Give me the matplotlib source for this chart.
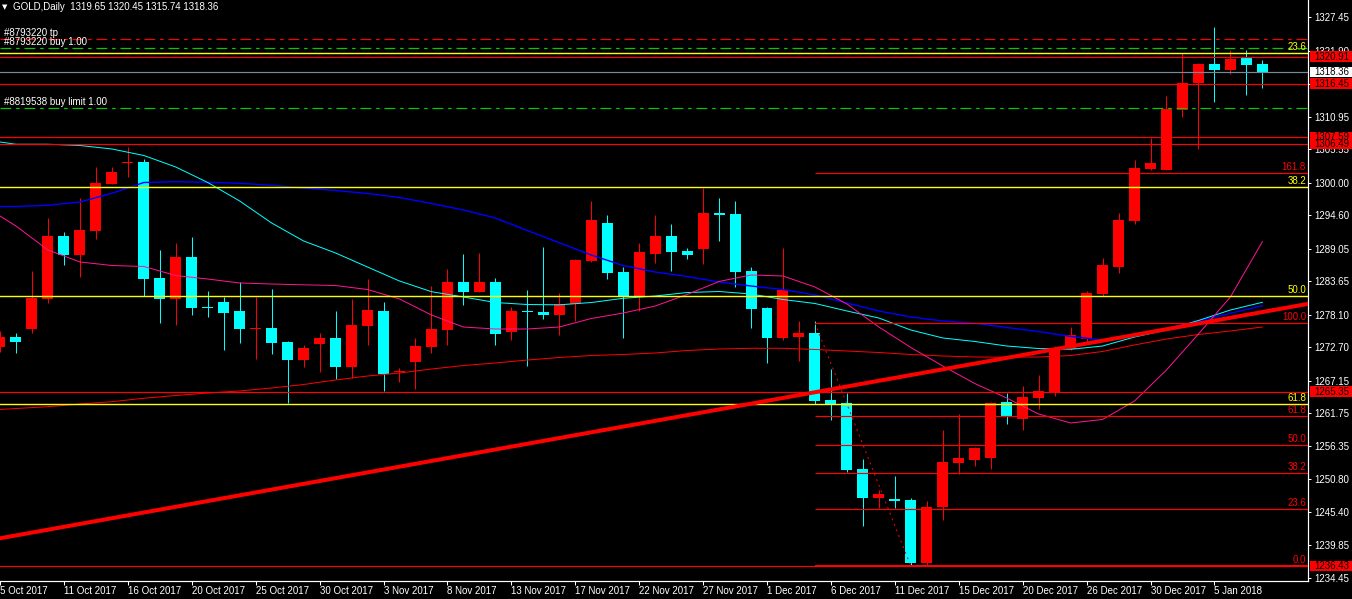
# GOLD daily chart, MT4 style
import numpy as np
import matplotlib.pyplot as plt
from matplotlib.patches import Rectangle
from matplotlib.transforms import blended_transform_factory

plt.rcParams['font.family'] = ['Liberation Sans', 'DejaVu Sans']

# Candles: bar index, open, high, low, close (red = up, cyan = down)
bars = list(range(-1, 79))
opens = [1272.80, 1274.42, 1275.75, 1280.73, 1291.17, 1288.02, 1292.05, 1299.85, 1303.33, 1303.45,
         1284.21, 1280.73, 1287.74, 1279.40, 1280.23, 1278.73, 1275.83, 1275.92, 1273.59, 1270.66,
         1273.31, 1274.26, 1269.50, 1276.30, 1278.73, 1268.57, 1270.33, 1272.81, 1275.63, 1283.54,
         1281.94, 1283.54, 1275.30, 1278.68, 1278.57, 1278.12, 1279.85, 1287.03, 1293.33, 1285.20,
         1281.22, 1288.24, 1291.17, 1288.69, 1289.02, 1294.99, 1294.82, 1285.37, 1279.23, 1274.31,
         1274.47, 1275.09, 1263.97, 1263.48, 1252.53, 1247.72, 1247.55, 1247.39, 1236.94, 1246.23,
         1253.52, 1254.02, 1254.35, 1263.64, 1260.82, 1264.30, 1265.13, 1272.43, 1274.09, 1281.55,
         1286.03, 1293.66, 1302.29, 1302.12, 1312.08, 1316.55, 1319.70, 1318.71, 1320.87, 1319.65]
highs = [1275.50, 1275.14, 1285.42, 1294.16, 1291.89, 1297.48, 1302.67, 1302.67, 1305.99, 1303.90,
         1288.85, 1289.96, 1291.01, 1282.05, 1281.11, 1283.54, 1281.11, 1282.33, 1273.76, 1273.09,
         1275.09, 1278.73, 1280.73, 1284.04, 1280.23, 1269.28, 1274.26, 1282.93, 1285.70, 1288.19,
         1288.36, 1284.21, 1279.40, 1282.22, 1289.35, 1281.72, 1287.41, 1296.98, 1294.66, 1286.03,
         1290.01, 1294.66, 1293.17, 1289.19, 1299.19, 1297.48, 1296.98, 1286.03, 1279.45, 1289.19,
         1277.08, 1277.08, 1269.11, 1265.13, 1254.19, 1249.05, 1251.36, 1247.72, 1247.22, 1258.99,
         1261.65, 1256.18, 1263.64, 1265.13, 1266.29, 1268.12, 1272.93, 1276.08, 1282.05, 1287.53,
         1294.99, 1303.78, 1307.43, 1314.40, 1321.53, 1319.87, 1325.84, 1322.03, 1322.03, 1320.45]
lows = [1272.00, 1271.82, 1275.14, 1280.01, 1286.37, 1284.42, 1290.73, 1299.85, 1300.91, 1281.22,
        1276.80, 1276.41, 1278.07, 1277.79, 1272.27, 1273.48, 1270.82, 1271.60, 1263.53, 1269.40,
        1268.67, 1267.46, 1267.57, 1273.15, 1265.47, 1267.01, 1265.85, 1271.72, 1273.09, 1279.73,
        1281.94, 1273.15, 1273.97, 1269.66, 1277.46, 1274.75, 1277.08, 1286.91, 1284.09, 1274.31,
        1278.73, 1286.70, 1285.42, 1287.41, 1286.58, 1290.39, 1282.77, 1275.92, 1270.16, 1273.97,
        1270.49, 1263.36, 1260.71, 1252.03, 1243.07, 1246.06, 1246.06, 1236.43, 1236.44, 1244.07,
        1251.70, 1253.03, 1252.53, 1259.99, 1258.99, 1262.48, 1264.64, 1272.27, 1273.59, 1281.22,
        1285.04, 1293.17, 1302.12, 1302.12, 1310.91, 1305.61, 1313.40, 1318.05, 1314.56, 1315.74]
closes = [1274.50, 1273.59, 1280.94, 1291.17, 1288.02, 1292.17, 1300.01, 1301.79, 1303.40, 1284.09,
          1280.73, 1287.74, 1279.28, 1279.28, 1278.45, 1275.75, 1275.92, 1273.48, 1270.66, 1272.60,
          1274.26, 1269.50, 1276.41, 1278.90, 1268.33, 1268.67, 1272.93, 1275.75, 1283.54, 1281.94,
          1283.54, 1274.97, 1278.73, 1278.57, 1278.12, 1279.90, 1287.19, 1293.83, 1285.04, 1281.11,
          1288.52, 1291.17, 1288.57, 1288.07, 1294.99, 1294.71, 1285.25, 1279.07, 1274.31, 1282.22,
          1275.09, 1263.86, 1263.36, 1252.36, 1247.72, 1248.38, 1247.22, 1236.94, 1246.23, 1253.69,
          1254.35, 1256.01, 1263.48, 1261.15, 1264.47, 1265.47, 1272.60, 1274.75, 1281.72, 1286.37,
          1293.83, 1302.45, 1303.28, 1312.24, 1316.55, 1319.70, 1318.71, 1320.53, 1319.54, 1318.36]

# Moving averages, read every second bar
ma_x = [-1] + list(range(0, 79, 2))
ma_cyan = [1306.77, 1306.39, 1306.39, 1306.19, 1305.61, 1304.53, 1302.62, 1300.05, 1296.98, 1293.33,
           1290.35, 1288.36, 1286.03, 1283.71, 1281.94, 1281.06, 1280.14, 1279.81, 1279.76, 1280.14,
           1280.84, 1281.22, 1281.80, 1281.97, 1281.55, 1280.64, 1279.98, 1278.74, 1277.57, 1275.58,
           1274.26, 1273.68, 1272.93, 1272.51, 1272.38, 1272.93, 1274.42, 1275.58, 1277.16, 1278.90, 1280.18]
ma_blue = [1296.04, 1296.07, 1296.27, 1296.81, 1298.26, 1300.05, 1300.18, 1300.08, 1299.92, 1299.58,
           1299.14, 1298.72, 1298.22, 1297.56, 1296.57, 1295.49, 1294.16, 1292.09, 1290.06, 1288.02,
           1286.28, 1285.20, 1284.46, 1283.54, 1282.88, 1282.30, 1281.39, 1280.06, 1278.74, 1277.74,
           1277.08, 1276.70, 1276.00, 1275.33, 1274.51, 1273.93, 1274.59, 1275.83, 1277.08, 1278.35, 1279.61]
ma_pink = [1294.49, 1292.83, 1288.85, 1286.87, 1286.28, 1286.12, 1284.62, 1284.04, 1283.38, 1283.21,
           1283.08, 1282.96, 1282.30, 1280.73, 1278.07, 1276.08, 1275.75, 1275.75, 1276.08, 1277.49,
           1278.40, 1279.56, 1281.47, 1283.63, 1284.71, 1284.54, 1282.72, 1279.90, 1276.08, 1272.68,
           1269.61, 1266.71, 1264.30, 1261.65, 1260.16, 1260.74, 1263.81, 1268.95, 1274.92, 1281.06, 1290.23]
ma_red = [1262.40, 1262.56, 1262.86, 1263.31, 1263.69, 1264.26, 1264.72, 1265.13, 1265.47, 1265.96,
          1266.54, 1267.29, 1267.95, 1268.45, 1269.11, 1269.69, 1270.11, 1270.60, 1271.02, 1271.35,
          1271.52, 1271.77, 1272.18, 1272.43, 1272.55, 1272.55, 1272.35, 1272.10, 1271.85, 1271.52,
          1271.27, 1271.11, 1271.06, 1271.11, 1271.35, 1272.02, 1273.10, 1274.09, 1274.84, 1275.42, 1276.08]

# Trend line anchors (bar, price)
trend_a = (0, 1241.51)
trend_b = (78, 1278.56)

# Fibonacci: yellow (swing 1204.9 -> 1357.6), red (bar 50 high -> bar 56 low)
fib_y_low, fib_y_high = 1204.9, 1357.6
fib_y_levels = [23.6, 38.2, 50.0, 61.8]
fib_r_start, fib_r_end = 50, 56
fib_r_high, fib_r_low = 1276.75, 1236.43
fib_r_levels = [0.0, 23.6, 38.2, 50.0, 61.8, 100.0, 161.8]

# Horizontal price lines with axis tags
red_lines = [1320.91, 1316.45, 1307.59, 1306.49, 1265.35, 1236.43]
bid = 1318.36

# Order lines
orders = [("#8793220 tp", 1323.80, "red"),
          ("#8793220 buy 1.00", 1322.31, "#00CC00"),
          ("#8819538 buy limit 1.00", 1312.36, "#00CC00")]

yticks = [1327.45, 1321.90, 1316.45, 1310.95, 1305.55, 1300.00, 1294.60, 1289.05, 1283.65,
          1278.10, 1272.70, 1267.15, 1261.75, 1256.35, 1250.80, 1245.40, 1239.85, 1234.45]
date_labels = ["5 Oct 2017", "11 Oct 2017", "16 Oct 2017", "20 Oct 2017", "25 Oct 2017",
               "30 Oct 2017", "3 Nov 2017", "8 Nov 2017", "13 Nov 2017", "17 Nov 2017",
               "22 Nov 2017", "27 Nov 2017", "1 Dec 2017", "6 Dec 2017", "11 Dec 2017",
               "15 Dec 2017", "20 Dec 2017", "26 Dec 2017", "30 Dec 2017", "5 Jan 2018"]
date_bars = list(range(-1, 79, 4))

W, H = 1352, 599
PX = 0.72  # one pixel in points at 100 dpi

fig = plt.figure(figsize=(W / 100, H / 100), dpi=100, facecolor="black")
ax = fig.add_axes([0, 18 / H, 1308 / W, 581 / H])
ax.set_facecolor("black")
ax.set_xlim(-14.3 / 16, (1308 - 14.3) / 16)
ax.set_ylim(1233.95, 1330.32)
ppx = (1330.32 - 1233.95) / 581  # price per pixel

# candles
o = np.array(opens); c = np.array(closes)
up = c >= o
cols = np.where(up, "#FF0000", "#00FFFF")
ax.vlines(bars, lows, highs, colors=cols, lw=PX, zorder=2)
body_h = np.maximum(np.abs(c - o), ppx)
ax.bar(bars, body_h, bottom=np.minimum(o, c), width=11 / 16, color=cols, linewidth=0, zorder=2)

# moving averages
ax.plot(ma_x, ma_red, color="#FF0000", lw=PX, zorder=3)
ax.plot(ma_x, ma_blue, color="#0000FF", lw=1.4 * PX, zorder=3)
ax.plot(ma_x, ma_cyan, color="#00FFFF", lw=PX, zorder=3)
ax.plot(ma_x, ma_pink, color="#FF1493", lw=PX, zorder=3)

# yellow fibo levels, full width
blend = blended_transform_factory(ax.transAxes, ax.transData)
for lv in fib_y_levels:
    y = fib_y_high - lv / 100 * (fib_y_high - fib_y_low)
    ax.axhline(y, color="#FFFF00", lw=1.4 * PX, zorder=3)
    ax.text(1306 / 1308, y + ppx, f"{lv:.1f}", color="#FFFF00", fontsize=7,
            ha="right", va="bottom", transform=blend, zorder=6)

# red fibo levels from bar 50
for lv in fib_r_levels:
    y = fib_r_low + lv / 100 * (fib_r_high - fib_r_low)
    ax.hlines(y, fib_r_start, 100, color="#FF0000", lw=(2 if lv == 0 else 1.2) * PX, zorder=3)
    ax.text(1306 / 1308, y + ppx, f"{lv:.1f}", color="#FF0000", fontsize=7,
            ha="right", va="bottom", transform=blend, zorder=6)
ax.plot([fib_r_start, fib_r_end], [fib_r_high, fib_r_low], color="#FF0000", lw=PX,
        linestyle=(0, (2, 4)), zorder=3)

# price lines
for y in red_lines:
    ax.axhline(y, color="#FF0000", lw=1.2 * PX, zorder=3)
ax.axhline(bid, color="#778899", lw=1.2 * PX, zorder=3)

# order lines
for name, y, col in orders:
    ax.axhline(y, color=col, lw=1.2 * PX, linestyle=(0, (9, 4, 3, 4)), zorder=3)
    ax.text(4 / 1308, y + 1.5 * ppx, name, color="white", fontsize=7,
            ha="left", va="bottom", transform=blend, zorder=6)

# trend line
ax.axline(trend_a, trend_b, color="#FF0000", lw=4 * PX, zorder=4)

# axes styling
for s in ["left", "top"]:
    ax.spines[s].set_visible(False)
ax.spines["right"].set_color("white")
ax.spines["bottom"].set_color("white")
ax.spines["right"].set_linewidth(1.2 * PX)
ax.spines["bottom"].set_linewidth(1.2 * PX)
ax.yaxis.tick_right()
ax.set_yticks(yticks)
ax.set_yticklabels([f"{v:.2f}" for v in yticks])
ax.tick_params(axis="y", colors="white", labelsize=7, length=3 * PX, width=PX, pad=3 * PX)
ax.set_xticks(date_bars)
ax.set_xticklabels(date_labels)
ax.tick_params(axis="x", colors="white", labelsize=7, length=4 * PX, width=PX, pad=1.5 * PX)
for lbl in ax.get_xticklabels():
    lbl.set_ha("left")

# price tags on the right axis
tags = [(y, "#FF0000") for y in red_lines[:1]] + [(bid, "white")] + [(y, "#FF0000") for y in red_lines[1:]]
for y, col in tags:
    ax.add_patch(Rectangle((1310 / 1308, y - 5 * ppx), 42 / 1308, 10.5 * ppx, transform=blend,
                           facecolor=col, edgecolor="none", clip_on=False, zorder=10))
    ax.text(1314 / 1308, y, f"{y:.2f}", color="black", fontsize=7, ha="left", va="center",
            transform=blend, clip_on=False, zorder=11)

# header
fig.text(2 / W, 1 - 7 / H, "\u25bc", color="white", fontsize=5, family="DejaVu Sans",
         ha="left", va="center")
fig.text(13 / W, 1 - 7 / H, "GOLD,Daily  1319.65 1320.45 1315.74 1318.36", color="white",
         fontsize=7, ha="left", va="center")

fig.savefig("out.png", dpi=100, facecolor="black")
